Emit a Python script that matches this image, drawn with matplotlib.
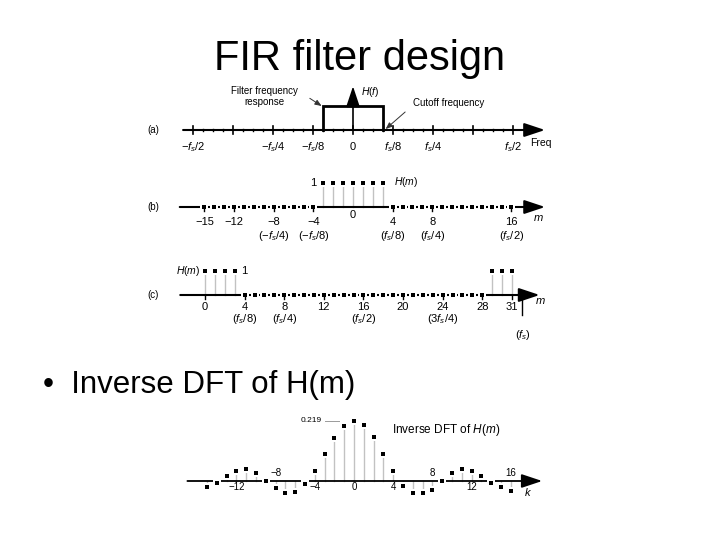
import matplotlib
matplotlib.use("Agg")
import matplotlib.pyplot as plt

plt.rcParams['font.family'] = ['Liberation Sans', 'DejaVu Sans']
plt.rcParams['mathtext.fontset'] = 'custom'
plt.rcParams['mathtext.rm'] = 'Liberation Sans'
plt.rcParams['mathtext.it'] = 'Liberation Sans:italic'
plt.rcParams['mathtext.bf'] = 'Liberation Sans:bold'

# ---------------- data ----------------
# (a) continuous filter response
a_tick_pos = [-0.5, -0.25, -0.125, 0, 0.125, 0.25, 0.5]
a_tick_labels = [r'$-f_s/2$', r'$-f_s/4$', r'$-f_s/8$', '0', r'$f_s/8$', r'$f_s/4$', r'$f_s/2$']
a_cutoff = 0.094
a_height = 1.0

# (b) H(m), m = -15 .. 16
b_m = list(range(-15, 17))
b_H = [1 if abs(m) <= 3 else 0 for m in b_m]
b_tick_pos = [-15, -12, -8, -4, 4, 8, 16]
b_tick_labels = ['\u221215', '\u221212', '\u22128', '\u22124', '4', '8', '16']
b_freq_pos = [-8, -4, 4, 8, 16]
b_freq_labels = [r'$(-f_s/4)$', r'$(-f_s/8)$', r'$(f_s/8)$', r'$(f_s/4)$', r'$(f_s/2)$']

# (c) H(m), m = 0 .. 31
c_m = list(range(0, 32))
c_H = [1 if (m <= 3 or m >= 29) else 0 for m in c_m]
c_tick_pos = [0, 4, 8, 12, 16, 20, 24, 28, 31]
c_tick_labels = ['0', '4', '8', '12', '16', '20', '24', '28', '31']
c_freq_pos = [4, 8, 16, 24]
c_freq_labels = [r'$(f_s/8)$', r'$(f_s/4)$', r'$(f_s/2)$', r'$(3f_s/4)$']

# (d) inverse DFT of H(m), k = -15 .. 16
d_k = list(range(-15, 17))
d_h = [-0.022, -0.006, 0.018, 0.036, 0.042, 0.030, 0.000, -0.026, -0.044, -0.039,
       -0.012, 0.036, 0.100, 0.156, 0.200, 0.219, 0.204, 0.161, 0.100, 0.035,
       -0.018, -0.044, -0.044, -0.032, 0.000, 0.030, 0.042, 0.036, 0.018, -0.007,
       -0.022, -0.038]
d_below_pos = [-12, -4, 0, 4, 12]
d_below_labels = ['\u221212', '\u22124', '0', '4', '12']
d_above_pos = [-8, 8, 16]
d_above_labels = ['\u22128', '8', '16']

# ---------------- figure ----------------
W, H = 720, 540
fig = plt.figure(figsize=(7.2, 5.4), dpi=100)
fig.patch.set_facecolor('white')


def panel(ytop, ybot, x0, sx, y0, sy):
    ax = fig.add_axes([0, 1 - ybot / H, 1, (ybot - ytop) / H])
    ax.set_xlim(-x0 / sx, (W - x0) / sx)
    ax.set_ylim((y0 - ybot) / sy, (y0 - ytop) / sy)
    ax.axis('off')
    return ax


def axis_arrow(ax, x0, x1, y=0, lw=1.5):
    ax.annotate('', xy=(x1, y), xytext=(x0, y),
                arrowprops=dict(arrowstyle='-|>,head_length=0.9,head_width=0.3',
                                lw=lw, color='black', shrinkA=0, shrinkB=0,
                                mutation_scale=14))


def squares(ax, xs, ys):
    ax.plot(xs, ys, 's', ms=6.0, color='white', mew=0, zorder=4)
    ax.plot(xs, ys, 's', ms=3.0, color='black', mew=0, zorder=5)


def stems(ax, xs, ys):
    for x, y in zip(xs, ys):
        if y != 0:
            ax.plot([x, x], [0, y], color='#c2c2c2', lw=1.0, zorder=2)


fs_lab = 8
fs_small = 7

# Title and bullet
fig.text(0.5, 1 - 70 / H, 'FIR filter design', ha='center', va='baseline',
         fontsize=30, color='black')
fig.text(43 / W, 1 - 393 / H, '\u2022  Inverse DFT of H(m)', ha='left', va='baseline',
         fontsize=22.5, color='black')

# ---- (a) ----
axa = panel(78, 160, 353, 320, 130, 24)
axis_arrow(axa, -0.531, 0.60)
axa.annotate('', xy=(0, 1.82), xytext=(0, 0),
             arrowprops=dict(arrowstyle='-|>,head_length=0.9,head_width=0.3',
                             lw=1.2, color='black', shrinkA=0, shrinkB=0,
                             mutation_scale=14))
for i in range(-16, 17):
    f = i / 32
    if i % 4 == 0:
        axa.plot([f, f], [-0.15, 0.15], color='black', lw=1.2)
    else:
        axa.plot([f, f], [-0.05, 0.05], color='black', lw=1.0)
axa.plot([-a_cutoff, -a_cutoff, a_cutoff, a_cutoff], [0, a_height, a_height, 0],
         color='black', lw=2.0, solid_joinstyle='miter')
for p, lab in zip(a_tick_pos, a_tick_labels):
    axa.text(p, -0.71, lab, ha='center', va='center', fontsize=fs_lab)
axa.text(0.555, -0.54, 'Freq', ha='left', va='center', fontsize=fs_small + 0.5)
axa.text(0.025, 1.58, r'$H(f)$', ha='left', va='center', fontsize=fs_small + 0.5)
axa.text(-0.278, 1.38, 'Filter frequency\nresponse', ha='center', va='center',
         fontsize=fs_small, linespacing=1.1)
axa.annotate('', xy=(-a_cutoff - 0.004, 1.0), xytext=(-0.135, 1.32),
             arrowprops=dict(arrowstyle='-|>,head_length=0.5,head_width=0.2',
                             lw=0.7, color='#333333', shrinkA=0, shrinkB=0,
                             mutation_scale=8))
axa.text(0.1875, 1.12, 'Cutoff frequency', ha='left', va='center', fontsize=fs_small)
axa.annotate('', xy=(a_cutoff + 0.008, 0.04), xytext=(0.163, 0.75),
             arrowprops=dict(arrowstyle='-|>,head_length=0.5,head_width=0.2',
                             lw=0.7, color='#333333', shrinkA=0, shrinkB=0,
                             mutation_scale=8))
axa.text(-0.625, 0, '(a)', ha='center', va='center', fontsize=fs_small)

# ---- (b) ----
axb = panel(168, 248, 353, 9.9, 207, 24)
axis_arrow(axb, -17.5, 19.4)
stems(axb, b_m, b_H)
for p in b_tick_pos:
    axb.plot([p, p], [-0.15, 0.0], color='black', lw=1.0, zorder=6)
squares(axb, b_m, b_H)
for p, lab in zip(b_tick_pos, b_tick_labels):
    axb.text(p, -0.62, lab, ha='center', va='center', fontsize=fs_lab)
axb.text(0, -0.32, '0', ha='center', va='center', fontsize=fs_lab)
for p, lab in zip(b_freq_pos, b_freq_labels):
    axb.text(p, -1.21, lab, ha='center', va='center', fontsize=fs_lab)
axb.text(-4.0, 1.0, '1', ha='center', va='center', fontsize=fs_lab)
axb.text(4.1, 1.03, r'$H(m)$', ha='left', va='center', fontsize=fs_small + 0.5)
axb.text(18.7, -0.45, r'$m$', ha='center', va='center', fontsize=fs_lab)
axb.text(-20.2, 0, '(b)', ha='center', va='center', fontsize=fs_small)

# ---- (c) ----
axc = panel(258, 345, 205, 9.9, 295, 24)
axis_arrow(axc, -2.5, 33.8)
stems(axc, c_m, c_H)
for p in c_tick_pos:
    axc.plot([p, p], [-0.15, 0.0], color='black', lw=1.0, zorder=6)
axc.plot([32, 32], [0, -0.85], color='black', lw=1.0)
squares(axc, c_m, c_H)
for p, lab in zip(c_tick_pos, c_tick_labels):
    axc.text(p, -0.5, lab, ha='center', va='center', fontsize=fs_lab)
for p, lab in zip(c_freq_pos, c_freq_labels):
    axc.text(p, -1.0, lab, ha='center', va='center', fontsize=fs_lab)
axc.text(32.1, -1.67, r'$(f_s)$', ha='center', va='center', fontsize=fs_lab)
axc.text(-0.5, 1.0, r'$H(m)$', ha='right', va='center', fontsize=fs_small + 0.5)
axc.text(4.0, 1.0, '1', ha='center', va='center', fontsize=fs_lab)
axc.text(33.9, -0.25, r'$m$', ha='center', va='center', fontsize=fs_lab)
axc.text(-5.25, 0, '(c)', ha='center', va='center', fontsize=fs_small)

# ---- (d) ----
sy_d = 60 / 0.219
axd = panel(408, 505, 354, 9.8, 481, sy_d)
axis_arrow(axd, -17.0, 19.2, lw=1.3)
stems(axd, d_k, d_h)
squares(axd, d_k, d_h)
for p, lab in zip(d_below_pos, d_below_labels):
    axd.text(p, -0.022, lab, ha='center', va='center', fontsize=fs_small)
for p, lab in zip(d_above_pos, d_above_labels):
    axd.text(p, 0.029, lab, ha='center', va='center', fontsize=fs_small)
axd.text(17.8, -0.04, r'$k$', ha='center', va='center', fontsize=fs_lab)
axd.text(-3.3, 0.219, '0.219', ha='right', va='center', fontsize=6)
axd.plot([-2.95, -1.5], [0.219, 0.219], color='#9a9a9a', lw=0.7)
axd.text(3.9, 0.186, r'Inverse DFT of $H(m)$', ha='left', va='center',
         fontsize=8.5)

fig.savefig('out.png', dpi=100, facecolor='white')
